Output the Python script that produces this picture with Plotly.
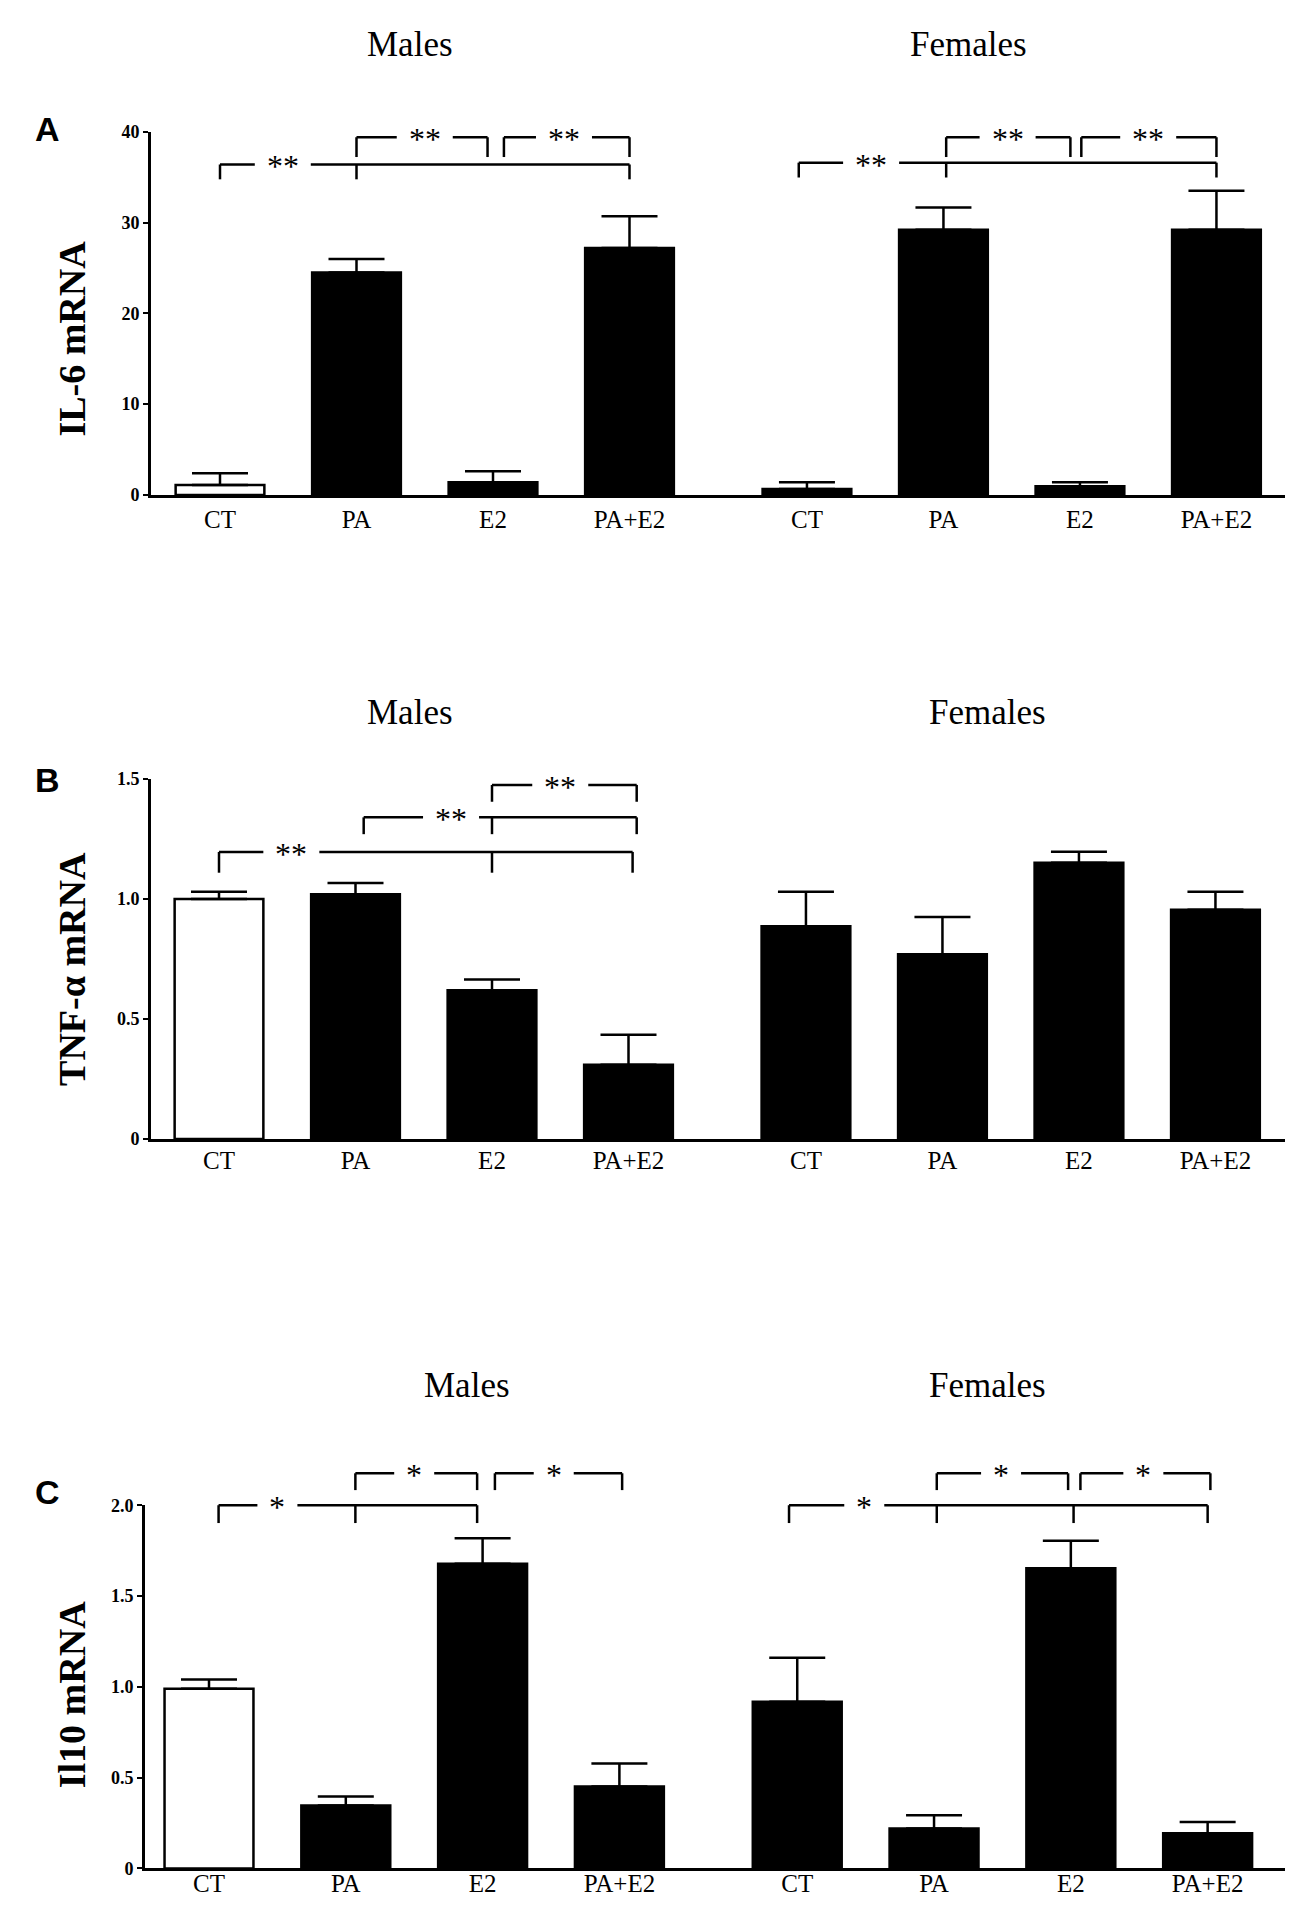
import plotly.graph_objects as go

W, H = 1293, 1907

# ---------------- data ----------------
categories = ["CT", "PA", "E2", "PA+E2"]
groups = ["Males", "Females"]

il6_male = [1.1, 24.5, 1.4, 27.2]
il6_male_err = [1.3, 1.5, 1.2, 3.5]
il6_female = [0.65, 29.2, 0.95, 29.2]
il6_female_err = [0.75, 2.45, 0.45, 4.3]

tnf_male = [1.0, 1.02, 0.62, 0.31]
tnf_male_err = [0.03, 0.047, 0.045, 0.125]
tnf_female = [0.886, 0.77, 1.151, 0.955]
tnf_female_err = [0.144, 0.155, 0.046, 0.075]

il10_male = [0.99, 0.347, 1.678, 0.451]
il10_male_err = [0.05, 0.049, 0.14, 0.127]
il10_female = [0.918, 0.22, 1.653, 0.193]
il10_female_err = [0.242, 0.073, 0.151, 0.062]

il6_ticks = [0, 10, 20, 30, 40]
il6_ticktext = ["0", "10", "20", "30", "40"]
tnf_ticks = [0, 0.5, 1.0, 1.5]
tnf_ticktext = ["0", "0.5", "1.0", "1.5"]
il10_ticks = [0, 0.5, 1.0, 1.5, 2.0]
il10_ticktext = ["0", "0.5", "1.0", "1.5", "2.0"]

# significance brackets: group, level, start, end, extra drop ticks, label, label position
il6_brackets = [
    dict(g=0, level=36.4, start=0, end=3, mids=[1], label="**", at=0.46, drop=15),
    dict(g=0, level=39.4, start=1, end=1.96, mids=[], label="**", at=1.5, drop=20),
    dict(g=0, level=39.4, start=2.08, end=3, mids=[], label="**", at=2.52, drop=20),
    dict(g=1, level=36.6, start=-0.06, end=3, mids=[1.02], label="**", at=0.47, drop=15),
    dict(g=1, level=39.4, start=1.02, end=1.93, mids=[], label="**", at=1.47, drop=20),
    dict(g=1, level=39.4, start=2.01, end=3, mids=[], label="**", at=2.5, drop=20),
]
tnf_brackets = [
    dict(g=0, level=1.196, start=0, end=3.03, mids=[2], label="**", at=0.53, drop=21),
    dict(g=0, level=1.34, start=1.06, end=3.06, mids=[2], label="**", at=1.70, drop=17),
    dict(g=0, level=1.475, start=2, end=3.06, mids=[], label="**", at=2.5, drop=17),
]
il10_brackets = [
    dict(g=0, level=2.0, start=0.07, end=1.96, mids=[1.07], label="*", at=0.5, drop=18),
    dict(g=0, level=2.176, start=1.07, end=1.96, mids=[], label="*", at=1.5, drop=17),
    dict(g=0, level=2.176, start=2.09, end=3.02, mids=[], label="*", at=2.52, drop=17),
    dict(g=1, level=2.0, start=-0.06, end=3, mids=[1.02, 2.02], label="*", at=0.49, drop=18),
    dict(g=1, level=2.176, start=1.02, end=1.98, mids=[], label="*", at=1.49, drop=17),
    dict(g=1, level=2.176, start=2.07, end=3.02, mids=[], label="*", at=2.53, drop=17),
]

# ---------------- layout constants ----------------
SERIF = "Liberation Serif"
SANS = "Liberation Sans"
GROUP_STEP = 4.3
BAR_W = 0.65

panels = [
    dict(letter="A", ylabel="IL-6 mRNA", vals=(il6_male, il6_female), errs=(il6_male_err, il6_female_err),
         ticks=il6_ticks, ticktext=il6_ticktext, zero_px=482, top_px=115, brackets=il6_brackets,
         axis_px=(143, 1278), ct_px=212, step_px=136.5, standoff=0,
         titles=[(402, 27), (960, 27)], letter_y=112, ylabel_y=324, white_ct=(True, False)),
    dict(letter="B", ylabel="TNF-α mRNA", vals=(tnf_male, tnf_female), errs=(tnf_male_err, tnf_female_err),
         ticks=tnf_ticks, ticktext=tnf_ticktext, zero_px=1133, top_px=769, brackets=tnf_brackets,
         axis_px=(143, 1278), ct_px=211, step_px=136.5, standoff=-3,
         titles=[(402, 702), (979, 702)], letter_y=770, ylabel_y=961, white_ct=(True, False)),
    dict(letter="C", ylabel="Il10 mRNA", vals=(il10_male, il10_female), errs=(il10_male_err, il10_female_err),
         ticks=il10_ticks, ticktext=il10_ticktext, zero_px=1870, top_px=1503, brackets=il10_brackets,
         axis_px=(137, 1277), ct_px=201, step_px=136.8, standoff=-9,
         titles=[(459, 1382), (979, 1382)], letter_y=1490, ylabel_y=1695, white_ct=(True, False)),
]


def pos(g, i):
    return i + g * GROUP_STEP


def xrange_of(p):
    l, r = p["axis_px"]
    return [(l - p["ct_px"]) / p["step_px"], (r - p["ct_px"]) / p["step_px"]]


def xpaper(p, x):
    return (p["ct_px"] + x * p["step_px"]) / W


def ypaper(p, v):
    top_val = p["ticks"][-1]
    px = p["zero_px"] - v / top_val * (p["zero_px"] - p["top_px"])
    return 1 - px / H


fig = go.Figure()
shapes = []
annotations = []
line_style = dict(color="black", width=2.5)

for k, p in enumerate(panels):
    n = "" if k == 0 else str(k + 1)
    xa, ya = "x" + n, "y" + n
    for g in range(2):
        xs = [pos(g, i) for i in range(len(categories))]
        colors = ["white" if (i == 0 and p["white_ct"][g]) else "black" for i in range(len(categories))]
        fig.add_trace(go.Bar(
            x=xs, y=p["vals"][g], width=BAR_W, xaxis=xa, yaxis=ya,
            marker=dict(color=colors, line=dict(color="black", width=2.5)),
            error_y=dict(type="data", symmetric=False, array=p["errs"][g],
                         arrayminus=[0] * len(categories), color="black", thickness=2.5, width=28),
            showlegend=False, hoverinfo="skip",
        ))
    ydom = [1 - p["zero_px"] / H, 1 - p["top_px"] / H]
    fig.layout["xaxis" + n] = dict(
        domain=[p["axis_px"][0] / W, p["axis_px"][1] / W], range=xrange_of(p), anchor=ya,
        showline=True, linecolor="black", linewidth=3,
        ticks="", showgrid=False, zeroline=False, ticklabelstandoff=p["standoff"],
        tickvals=[pos(g, i) for g in range(2) for i in range(len(categories))],
        ticktext=categories * 2, tickfont=dict(family=SERIF, size=25, color="black"),
    )
    fig.layout["yaxis" + n] = dict(
        domain=ydom, range=[0, p["ticks"][-1]], anchor=xa, showline=True, linecolor="black", linewidth=3,
        ticks="outside", ticklen=5, tickwidth=2, tickcolor="black", showgrid=False, zeroline=False,
        tickvals=p["ticks"], ticktext=p["ticktext"],
        tickfont=dict(family=SERIF, size=18, color="black", weight="bold"),
    )
    # titles
    for g, (tx, ty) in enumerate(p["titles"]):
        annotations.append(dict(x=tx / W, y=1 - ty / H, xref="paper", yref="paper", text=groups[g],
                                showarrow=False, xanchor="center", yanchor="middle",
                                font=dict(family=SERIF, size=35, color="black")))
    annotations.append(dict(x=39 / W, y=1 - p["letter_y"] / H, xref="paper", yref="paper", text=p["letter"],
                            showarrow=False, xanchor="center", yanchor="middle",
                            font=dict(family=SANS, size=34, color="black", weight="bold")))
    annotations.append(dict(x=64 / W, y=1 - p["ylabel_y"] / H, xref="paper", yref="paper", text=p["ylabel"],
                            showarrow=False, xanchor="center", yanchor="middle", textangle=-90,
                            font=dict(family=SERIF, size=38, color="black", weight="bold")))
    # brackets
    for b in p["brackets"]:
        yl = ypaper(p, b["level"])
        yd = yl - b["drop"] / H
        x0, x1 = xpaper(p, pos(b["g"], b["start"])), xpaper(p, pos(b["g"], b["end"]))
        xl = xpaper(p, pos(b["g"], b["at"]))
        half_gap = (56 if len(b["label"]) == 2 else 40) / 2 / W
        shapes.append(dict(type="line", xref="paper", yref="paper", x0=x0, x1=xl - half_gap, y0=yl, y1=yl, line=line_style))
        shapes.append(dict(type="line", xref="paper", yref="paper", x0=xl + half_gap, x1=x1, y0=yl, y1=yl, line=line_style))
        for t in [b["start"], b["end"]] + b["mids"]:
            xt = xpaper(p, pos(b["g"], t))
            shapes.append(dict(type="line", xref="paper", yref="paper", x0=xt, x1=xt, y0=yl, y1=yd, line=line_style))
        annotations.append(dict(x=xl, y=yl, xref="paper", yref="paper", text=b["label"], showarrow=False,
                                xanchor="center", yanchor="middle", yshift=-2,
                                font=dict(family=SERIF, size=32, color="black")))

fig.update_layout(
    width=W, height=H, margin=dict(l=0, r=0, t=0, b=0),
    paper_bgcolor="white", plot_bgcolor="white", barmode="overlay",
    shapes=shapes, annotations=annotations, showlegend=False,
)

fig.write_html("out.html")
